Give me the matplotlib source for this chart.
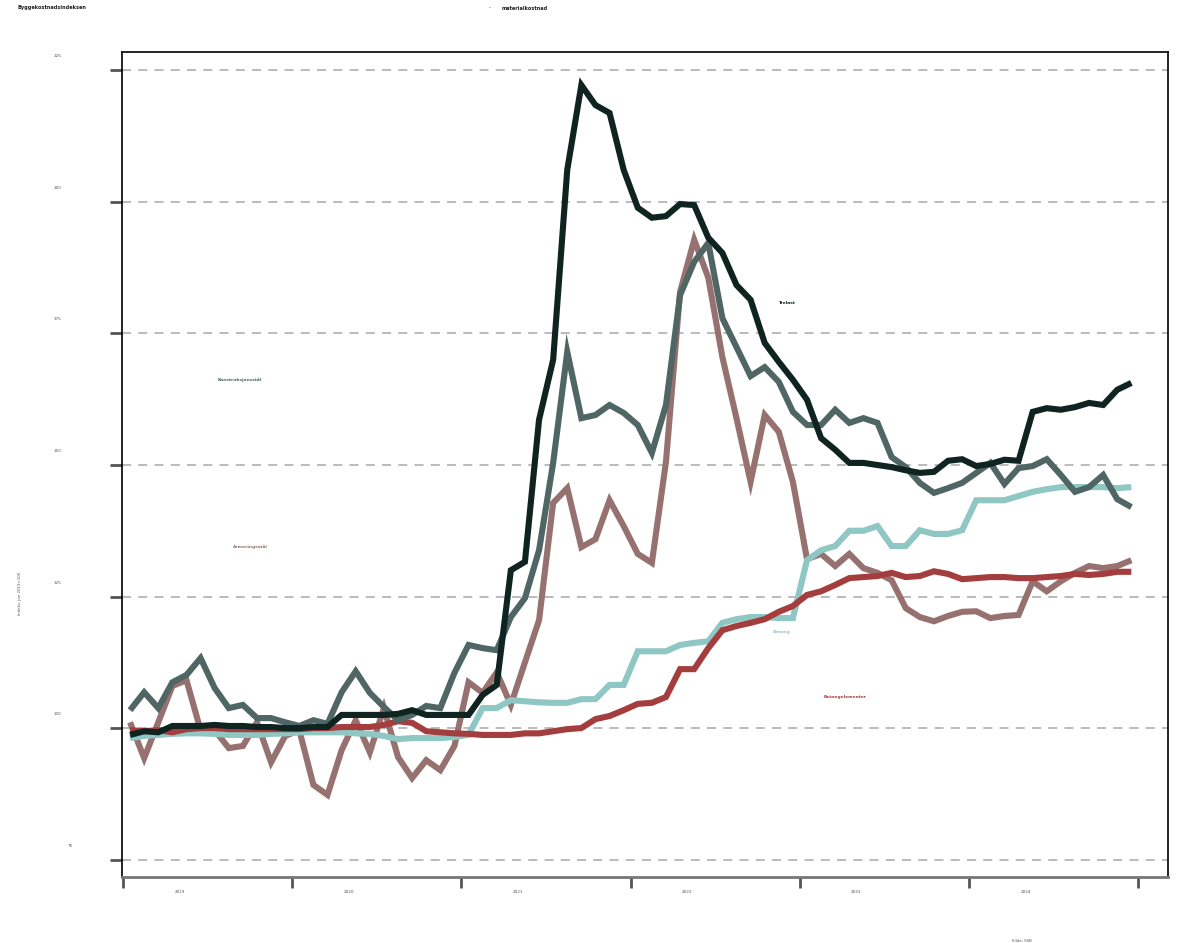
import numpy as np
import matplotlib
matplotlib.use("Agg")
import matplotlib.pyplot as plt
import matplotlib.transforms as mtransforms

# Monthly index values, Jan 2019 - Dec 2024
trelast = [98.7, 99.4, 99.2, 100.4, 100.4, 100.4, 100.6, 100.4, 100.4, 100.2, 100.2, 100.0,
           100.0, 100.2, 100.2, 102.5, 102.5, 102.5, 102.5, 102.7, 103.4, 102.5, 102.5, 102.5,
           102.5, 106.3, 108.2, 130.0, 131.6, 158.6, 170.0, 206.1, 222.2, 218.4, 216.9, 206.1,
           198.9, 197.0, 197.3, 199.6, 199.4, 193.2, 190.3, 184.2, 181.4, 173.2, 169.6, 166.2,
           162.4, 155.1, 152.9, 150.4, 150.4, 150.0, 149.6, 149.0, 148.5, 148.7, 150.8, 151.1,
           149.8, 150.2, 151.0, 150.8, 160.1, 160.8, 160.5, 161.0, 161.8, 161.4, 164.3, 165.6]
konstruksjonsstal = [103.4, 106.8, 103.8, 108.7, 110.1, 113.3, 107.6, 103.8, 104.4, 101.9, 101.9, 101.1,
                     100.4, 101.5, 100.8, 106.8, 110.8, 106.7, 104.0, 101.5, 102.5, 104.2, 103.8, 110.5,
                     115.8, 115.2, 114.8, 121.1, 124.7, 133.8, 150.4, 171.5, 158.9, 159.5, 161.4, 159.9,
                     157.6, 152.3, 161.4, 182.3, 188.6, 192.2, 177.9, 172.4, 166.9, 168.6, 165.8, 160.1,
                     157.6, 157.6, 160.5, 158.0, 158.9, 158.0, 151.5, 149.6, 146.6, 144.7, 145.6, 146.6,
                     148.5, 150.4, 146.4, 149.4, 149.8, 151.1, 148.1, 144.9, 145.8, 148.1, 143.5, 142.0]
armeringsstal = [101.1, 94.3, 101.1, 108.0, 109.1, 99.6, 99.6, 96.2, 96.6, 101.1, 93.5, 98.5,
                 99.6, 89.2, 87.3, 95.8, 101.5, 95.4, 103.8, 94.5, 90.5, 93.9, 92.0, 96.6,
                 108.7, 106.7, 110.6, 104.4, 112.5, 120.5, 142.8, 145.6, 134.4, 135.9, 143.3, 138.4,
                 133.1, 131.4, 150.6, 182.9, 192.8, 185.6, 170.5, 158.9, 146.8, 159.5, 156.3, 146.8,
                 132.1, 133.1, 130.8, 133.1, 130.4, 129.5, 128.1, 122.8, 121.1, 120.3, 121.3, 122.1,
                 122.2, 120.9, 121.3, 121.5, 127.9, 126.0, 127.9, 129.5, 130.8, 130.4, 130.8, 131.9]
betong = [98.1, 98.5, 98.7, 98.9, 99.0, 99.0, 98.9, 98.7, 98.7, 98.7, 98.9, 99.0,
          99.2, 99.2, 99.2, 99.2, 99.0, 98.9, 98.5, 97.9, 98.1, 98.1, 98.1, 98.3,
          98.7, 103.8, 103.8, 105.3, 105.1, 104.9, 104.8, 104.8, 105.5, 105.5, 108.2, 108.2,
          114.6, 114.6, 114.6, 115.8, 116.2, 116.5, 120.0, 120.7, 121.1, 121.1, 120.9, 120.9,
          131.9, 133.8, 134.6, 137.5, 137.5, 138.4, 134.6, 134.6, 137.6, 136.9, 136.9, 137.6,
          143.3, 143.3, 143.3, 144.1, 144.9, 145.4, 145.8, 145.8, 145.8, 145.8, 145.6, 145.8]
betongelementer = [99.6, 99.4, 99.6, 99.2, 99.8, 100.0, 100.0, 99.8, 99.8, 99.8, 99.8, 99.8,
                   99.8, 100.0, 100.0, 100.2, 100.2, 100.2, 100.6, 101.3, 101.0, 99.4, 99.2, 99.0,
                   98.9, 98.7, 98.7, 98.7, 99.0, 99.0, 99.4, 99.8, 100.0, 101.7, 102.3, 103.4,
                   104.6, 104.8, 105.9, 111.2, 111.2, 115.2, 118.6, 119.4, 120.0, 120.7, 122.1, 123.2,
                   125.3, 126.0, 127.2, 128.5, 128.7, 128.9, 129.5, 128.7, 128.9, 129.8, 129.3, 128.3,
                   128.5, 128.7, 128.7, 128.5, 128.5, 128.7, 128.9, 129.3, 129.1, 129.3, 129.7, 129.7]

series_names = ["Armeringsstål", "Betong", "Betongelementer", "Konstruksjonsstål", "Trelast"]
series_values = [armeringsstal, betong, betongelementer, konstruksjonsstal, trelast]
series_colors = ["#967170", "#8ec7c4", "#a43d3d", "#4f6664", "#0f2421"]
label_pos = [(8.5, 134.4), (46.2, 118.3), (50.7, 105.9), (7.8, 166.3), (46.6, 180.8)]

years = ["2019", "2020", "2021", "2022", "2023", "2024"]
y_ticks = [75, 100, 125, 150, 175, 200, 225]

fig = plt.figure(figsize=(11.79, 9.43), dpi=100)
ax = fig.add_axes([0.1035, 0.070, 0.8872, 0.8749])

months = np.arange(len(trelast))
for name, vals, col in zip(series_names, series_values, series_colors):
    ax.plot(months, vals, color=col, lw=4.4, solid_capstyle="butt", solid_joinstyle="miter", zorder=3)

for (x, y), name, col in zip(label_pos, series_names, series_colors):
    ax.text(x, y, name, color=col, fontsize=3.2, fontweight="bold", ha="center", va="center")

ax.set_xlim(-0.57, 73.6)
ax.set_ylim(71.7, 228.5)

for v in y_ticks:
    ax.axhline(v, color="#b5b5b5", lw=1.3, ls=(0, (5, 4)), zorder=1)

# x ticks at year boundaries, labels a quarter into the year
ax.set_xticks([12 * k - 0.5 for k in range(7)])
ax.set_xticklabels([])
ax.tick_params(axis="x", length=8, width=2, color="#555555")
ax.set_yticks(y_ticks)
ax.set_yticklabels([])
ax.tick_params(axis="y", length=8.5, width=2, color="#555555")

for k, yr in enumerate(years):
    ax.text(12 * k + 3.5, -0.018, yr, transform=ax.get_xaxis_transform(),
            fontsize=3, color="#555555", ha="center", va="center")

off = mtransforms.offset_copy(ax.get_yaxis_transform(), fig=fig, x=0, y=14, units="dots")
for v in y_ticks:
    xpos = -0.049 if v == 75 else -0.062
    ax.text(xpos, v, str(v), transform=off, fontsize=3, color="#555555", ha="center", va="center")

for s in ["top", "left", "right"]:
    ax.spines[s].set_linewidth(1.2)
    ax.spines[s].set_color("black")
ax.spines["bottom"].set_linewidth(2)
ax.spines["bottom"].set_color("#777777")

fig.text(18 / 1179, 1 - 8 / 943, "Byggekostnadsindeksen", fontsize=3.6, fontweight="bold",
         color="#222222", ha="left", va="center")
fig.text(489 / 1179, 1 - 8 / 943, "-", fontsize=3.6, color="#222222", ha="left", va="center")
fig.text(502 / 1179, 1 - 8 / 943, "materialkostnad", fontsize=3.6, fontweight="bold",
         color="#222222", ha="left", va="center")
fig.text(20 / 1179, 1 - 593 / 943, "Indeks, jan 2019=100", fontsize=2.8, rotation=90,
         color="#555555", ha="center", va="center")
fig.text(1022 / 1179, 1 - 941 / 943, "Kilde: SSB", fontsize=2.8, color="#555555",
         ha="center", va="center")

fig.savefig("out.png", dpi=100)
